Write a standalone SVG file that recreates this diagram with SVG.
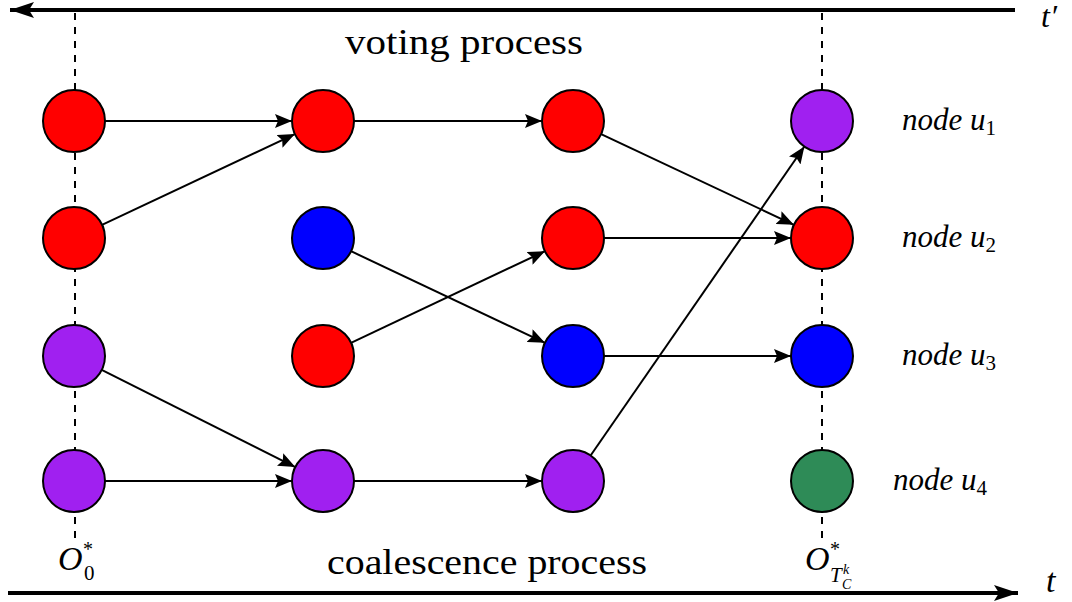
<svg xmlns="http://www.w3.org/2000/svg" width="1072" height="602" viewBox="0 0 1072 602">
<style>
.n{stroke:#000;stroke-width:2}
.r{fill:#ff0000}.b{fill:#0000ff}.p{fill:#a020f0}.g{fill:#2e8b57}
.e{stroke:#000;stroke-width:2;fill:none;marker-end:url(#ah)}
.d{stroke:#000;stroke-width:2;stroke-dasharray:7,7}
.ax{stroke:#000;stroke-width:4}
.i{font-style:italic}
</style>
<defs>
<marker id="ah" markerUnits="userSpaceOnUse" markerWidth="18" markerHeight="14" refX="17" refY="7" orient="auto"><path d="M0,0 L17,7 L0,14 L3,7 Z" fill="#000"/></marker>
<marker id="big" markerUnits="userSpaceOnUse" markerWidth="26" markerHeight="18" refX="24" refY="9" orient="auto"><path d="M0,1 L24,9 L0,17 L5,9 Z" fill="#000"/></marker>
</defs>
<g id="axes">
<line class="ax" x1="1015" y1="10" x2="10" y2="10" marker-end="url(#big)"/>
<line class="ax" x1="8" y1="593" x2="1018" y2="593" marker-end="url(#big)"/>
<line class="d" x1="75" y1="13" x2="75" y2="540"/>
<line class="d" x1="822" y1="13" x2="822" y2="540"/>
</g>
<g id="connectors">
<line class="e" x1="105" y1="121" x2="292" y2="121"/>
<line class="e" x1="102" y1="224.9" x2="294.9" y2="134.1"/>
<line class="e" x1="101.7" y1="369.9" x2="295.3" y2="467.1"/>
<line class="e" x1="105" y1="481" x2="292" y2="481"/>
<line class="e" x1="354" y1="121" x2="542" y2="121"/>
<line class="e" x1="351" y1="251.2" x2="545" y2="342.8"/>
<line class="e" x1="351" y1="342.8" x2="545" y2="251.2"/>
<line class="e" x1="354" y1="481" x2="542" y2="481"/>
<line class="e" x1="601.1" y1="134.2" x2="793.9" y2="224.8"/>
<line class="e" x1="604" y1="238" x2="791" y2="238"/>
<line class="e" x1="604" y1="356" x2="791" y2="356"/>
<line class="e" x1="590.6" y1="455.5" x2="804.4" y2="146.5"/>
</g>
<g id="c1r1"><circle class="n r" cx="74" cy="121" r="31"/></g>
<g id="c1r2"><circle class="n r" cx="74" cy="238" r="31"/></g>
<g id="c1r3"><circle class="n p" cx="74" cy="356" r="31"/></g>
<g id="c1r4"><circle class="n p" cx="74" cy="481" r="31"/></g>
<g id="c2r1"><circle class="n r" cx="323" cy="121" r="31"/></g>
<g id="c2r2"><circle class="n b" cx="323" cy="238" r="31"/></g>
<g id="c2r3"><circle class="n r" cx="323" cy="356" r="31"/></g>
<g id="c2r4"><circle class="n p" cx="323" cy="481" r="31"/></g>
<g id="c3r1"><circle class="n r" cx="573" cy="121" r="31"/></g>
<g id="c3r2"><circle class="n r" cx="573" cy="238" r="31"/></g>
<g id="c3r3"><circle class="n b" cx="573" cy="356" r="31"/></g>
<g id="c3r4"><circle class="n p" cx="573" cy="481" r="31"/></g>
<g id="c4r1"><circle class="n p" cx="822" cy="121" r="31"/></g>
<g id="c4r2"><circle class="n r" cx="822" cy="238" r="31"/></g>
<g id="c4r3"><circle class="n b" cx="822" cy="356" r="31"/></g>
<g id="c4r4"><circle class="n g" cx="822" cy="481" r="31"/></g>
<g id="labels" font-family="'Liberation Serif', 'DejaVu Serif', serif" fill="#000">
<text x="345" y="54" font-size="35" textLength="238" lengthAdjust="spacingAndGlyphs">voting process</text>
<text x="327" y="574" font-size="35" textLength="320" lengthAdjust="spacingAndGlyphs">coalescence process</text>
<text class="i" x="1041" y="27" font-size="32">t′</text>
<text class="i" x="1046" y="592" font-size="34">t</text>
<text x="902" y="130" font-size="31"><tspan class="i">node u</tspan><tspan font-size="21" dy="5">1</tspan></text>
<text x="902" y="247" font-size="31"><tspan class="i">node u</tspan><tspan font-size="21" dy="5">2</tspan></text>
<text x="902" y="365" font-size="31"><tspan class="i">node u</tspan><tspan font-size="21" dy="5">3</tspan></text>
<text x="893" y="490" font-size="31"><tspan class="i">node u</tspan><tspan font-size="21" dy="5">4</tspan></text>
<text class="i" x="58" y="570" font-size="34">O</text>
<text x="83" y="556" font-size="20">*</text>
<text x="84" y="580" font-size="21">0</text>
<text class="i" x="805" y="570" font-size="34">O</text>
<text x="830" y="556" font-size="20">*</text>
<text class="i" x="830" y="582" font-size="21">T</text>
<text class="i" x="843" y="574" font-size="14">k</text>
<text class="i" x="842" y="589" font-size="14">C</text>
</g>
</svg>
